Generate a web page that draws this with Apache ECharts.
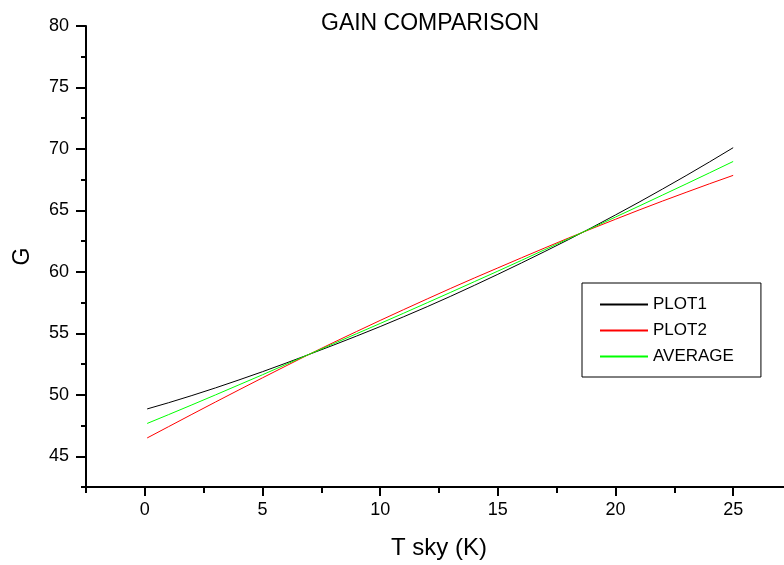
<!DOCTYPE html>
<html>
<head>
<meta charset="utf-8">
<script src="https://cdn.jsdelivr.net/npm/echarts@6/dist/echarts.min.js"></script>
<style>
html,body{margin:0;padding:0;background:#fff;}
#chart{width:784px;height:565px;}
</style>
</head>
<body>
<div id="chart"></div>
<script>
const titleText = 'GAIN COMPARISON';
const xName = 'T sky (K)';
const yName = 'G';
const seriesNames = ['PLOT1', 'PLOT2', 'AVERAGE'];
const tSky = [0.1,1,2,3,4,5,6,7,8,9,10,11,12,13,14,15,16,17,18,19,20,21,22,23,24,25];
const plot1 = [48.85,49.35,49.94,50.56,51.21,51.88,52.58,53.30,54.03,54.78,55.55,56.35,57.17,58.02,58.90,59.80,60.72,61.66,62.62,63.61,64.63,65.67,66.74,67.83,68.95,70.10];
const plot2 = [46.49,47.40,48.41,49.41,50.40,51.38,52.35,53.31,54.24,55.15,56.05,56.93,57.80,58.66,59.50,60.32,61.14,61.95,62.75,63.52,64.28,65.03,65.76,66.47,67.17,67.85];
const average = [47.67,48.38,49.18,49.99,50.81,51.63,52.47,53.31,54.14,54.97,55.80,56.64,57.49,58.34,59.20,60.06,60.93,61.81,62.69,63.57,64.46,65.35,66.25,67.15,68.06,68.98];
const xMajorTicks = [0,5,10,15,20,25];
const xMinorTicks = [-2.5,2.5,7.5,12.5,17.5,22.5,27.5];
const yMajorTicks = [45,50,55,60,65,70,75,80];
const yMinorTicks = [42.5,47.5,52.5,57.5,62.5,67.5,72.5,77.5];
const colors = ['#000000', '#ff0000', '#00ff00'];

const FONT = 'Liberation Sans, Arial, sans-serif';
const chart = echarts.init(document.getElementById('chart'));
const pairs = arr => tSky.map((x, i) => [x, arr[i]]);
const dataSets = [plot1, plot2, average];

const axisLineStyle = {show: true, onZero: false, lineStyle: {color: '#000', width: 2}};
chart.setOption({
  animation: false,
  backgroundColor: '#fff',
  title: {
    text: titleText, left: 316, top: 7,
    textStyle: {fontFamily: FONT, fontSize: 23, fontWeight: 'normal', color: '#000'}
  },
  legend: {
    orient: 'vertical', left: 582, top: 283,
    padding: [13, 27, 12, 17],
    itemWidth: 48, itemHeight: 14, itemGap: 9,
    borderColor: '#000', borderWidth: 1,
    itemStyle: {opacity: 0},
    textStyle: {fontFamily: FONT, fontSize: 17, color: '#000'},
    data: seriesNames
  },
  grid: {left: 86, top: 26, right: -8, bottom: 78, outerBoundsMode: 'none', containLabel: false},
  xAxis: [{
    type: 'value', min: -2.5, max: 27.5, position: 'bottom',
    name: xName, nameLocation: 'middle', nameGap: 49,
    nameTextStyle: {fontFamily: FONT, fontSize: 24, color: '#000'},
    axisLine: axisLineStyle,
    splitLine: {show: false},
    axisTick: {show: true, customValues: xMajorTicks, length: 9, lineStyle: {color: '#000', width: 2}},
    axisLabel: {customValues: xMajorTicks, margin: 14, fontFamily: FONT, fontSize: 18, color: '#000'}
  }, {
    type: 'value', min: -2.5, max: 27.5, position: 'bottom', offset: 0,
    axisLine: {show: false, onZero: false},
    splitLine: {show: false},
    axisTick: {show: true, customValues: xMinorTicks, length: 6, lineStyle: {color: '#000', width: 2}},
    axisLabel: {show: false}
  }],
  yAxis: [{
    type: 'value', min: 42.5, max: 80, position: 'left',
    name: yName, nameLocation: 'middle', nameGap: 52, nameRotate: 90,
    nameTextStyle: {fontFamily: FONT, fontSize: 23, color: '#000'},
    axisLine: axisLineStyle,
    splitLine: {show: false},
    axisTick: {show: true, customValues: yMajorTicks, length: 10, lineStyle: {color: '#000', width: 2}},
    axisLabel: {customValues: yMajorTicks, margin: 17, fontFamily: FONT, fontSize: 18, color: '#000'}
  }, {
    type: 'value', min: 42.5, max: 80, position: 'left', offset: 0,
    axisLine: {show: false, onZero: false},
    splitLine: {show: false},
    axisTick: {show: true, customValues: yMinorTicks, length: 5, lineStyle: {color: '#000', width: 2}},
    axisLabel: {show: false}
  }],
  series: seriesNames.map((name, i) => ({
    name: name, type: 'line', data: pairs(dataSets[i]),
    xAxisIndex: 0, yAxisIndex: 0,
    symbol: 'none', showSymbol: false, smooth: false,
    lineStyle: {color: colors[i], width: 1},
    itemStyle: {color: colors[i]}
  }))
});
</script>
</body>
</html>
